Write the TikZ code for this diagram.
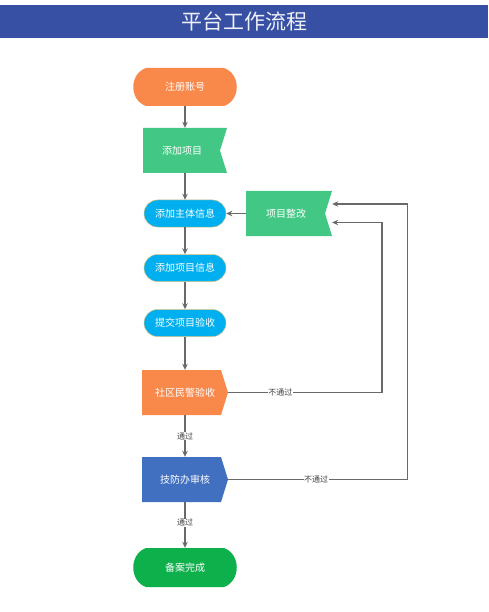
\documentclass[tikz,border=0pt]{standalone}
\usepackage{fontspec}
\setmainfont{Noto Sans CJK SC}
\usetikzlibrary{arrows.meta}
\definecolor{barC}{RGB}{55,80,163}
\definecolor{orangeC}{RGB}{249,137,75}
\definecolor{flagC}{RGB}{66,200,132}
\definecolor{capC}{RGB}{0,175,239}
\definecolor{capB}{RGB}{214,196,130}
\definecolor{techC}{RGB}{66,112,192}
\definecolor{doneC}{RGB}{13,176,75}
\definecolor{lineC}{RGB}{105,105,105}
\begin{document}
\begin{tikzpicture}[x=1pt,y=-1pt,
  txt/.style={font=\fontsize{10}{12}\selectfont, text=white, inner sep=0},
  capsule/.style={txt, fill=capC, draw=capB, line width=0.5pt, rounded corners=13.5pt, minimum width=82, minimum height=27},
  conn/.style={draw=lineC, line width=1.3pt, -{Stealth[length=6pt,width=5.5pt]}},
  elbl/.style={font=\fontsize{8}{10}\selectfont, text=black!75, fill=white, inner sep=0.5pt}]
\useasboundingbox (0,0) rectangle (488,612);
\fill[white] (0,0) rectangle (488,612);
% title bar
\fill[barC] (0,5) rectangle (488,38);
\node[font=\fontsize{21}{24}\selectfont, text=white!92!barC, inner sep=0] (title) at (244,21.5) {平台工作流程};

% shapes
\fill[orangeC] (146,68) -- (224,68) .. controls (241,74) and (241,100) .. (224,106) -- (146,106) .. controls (129,100) and (129,74) .. (146,68) -- cycle;
\fill[flagC] (143,128) -- (227,128) -- (220,150.5) -- (227,173) -- (143,173) -- cycle;
\fill[flagC] (246,191) -- (332,191) -- (325,213.5) -- (332,236) -- (246,236) -- cycle;
\fill[orangeC] (142,370) -- (221,370) -- (228,392.5) -- (221,415) -- (142,415) -- cycle;
\fill[techC] (142,457) -- (221,457) -- (228,479.5) -- (221,502) -- (142,502) -- cycle;
\fill[doneC] (146,548) -- (224,548) .. controls (241,554) and (241,581) .. (224,587) -- (146,587) .. controls (129,581) and (129,554) .. (146,548) -- cycle;

% nodes
\node[txt, minimum width=104, minimum height=38] (reg) at (185,87) {注册账号};
\node[txt, minimum width=84, minimum height=45] (addp) at (185,150.5) {\hspace*{-6pt}添加项目};
\node[txt, minimum width=86, minimum height=45] (fix) at (289,213.5) {\hspace*{-6pt}项目整改};
\node[capsule] (subj) at (185,213.5) {添加主体信息};
\node[capsule] (info) at (185,268) {添加项目信息};
\node[capsule] (submit) at (185,323) {提交项目验收};
\node[txt, minimum width=86, minimum height=45] (police) at (185,392.5) {社区民警验收};
\node[txt, minimum width=86, minimum height=45] (tech) at (185,479.5) {技防办审核};
\node[txt, minimum width=106, minimum height=39] (done) at (185,567.5) {备案完成};

% connectors
\draw[conn] (reg) -- (addp);
\draw[conn] (addp) -- (subj);
\draw[conn] (fix) -- (subj);
\draw[conn] (subj) -- (info);
\draw[conn] (info) -- (submit);
\draw[conn] (submit) -- (police);
\draw[conn] (police) -- node[elbl]{通过} (tech);
\draw[conn] (tech) -- node[elbl, pos=0.45]{通过} (done);
\coordinate (c1) at (382,222.5);
\coordinate (c2) at (407.5,204);
\draw[conn] (police.east) -- node[elbl, pos=0.34]{不通过} (police.east -| c1) -- (c1) -- (fix.east |- c1);
\draw[conn] (tech.east) -- node[elbl, pos=0.49]{不通过} (tech.east -| c2) -- (c2) -- (fix.east |- c2);
\end{tikzpicture}
\end{document}
